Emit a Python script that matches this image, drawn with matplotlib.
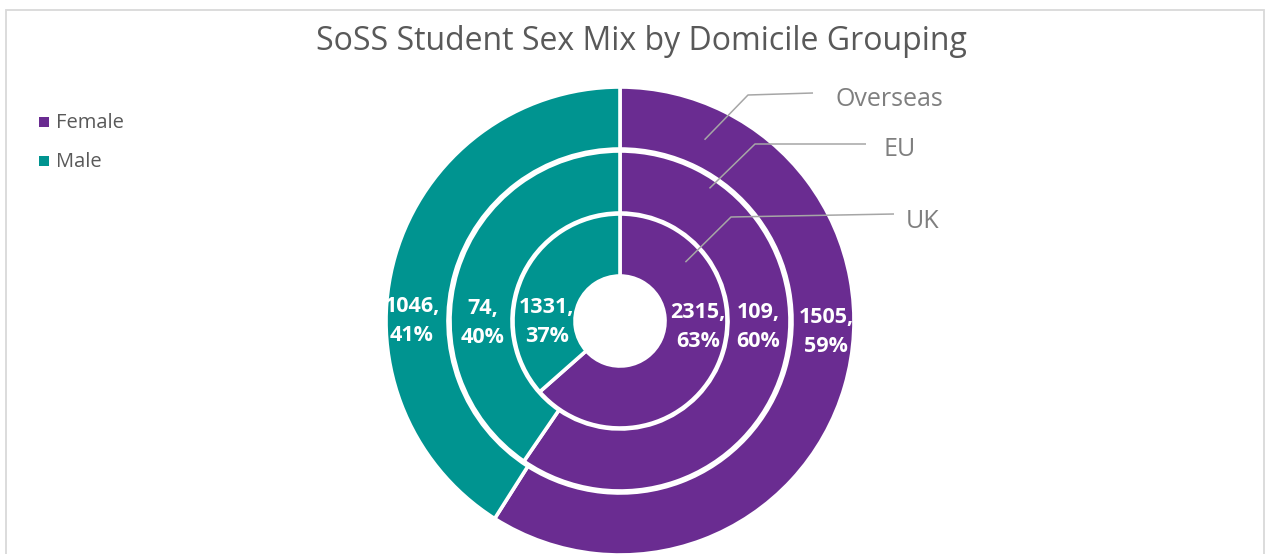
import matplotlib.pyplot as plt
from matplotlib.patches import Rectangle
import numpy as np

plt.rcParams['font.family'] = ['Open Sans', 'DejaVu Sans']

# data (outer ring first)
rings = ['Overseas', 'EU', 'UK']
sexes = ['Female', 'Male']
female = [1505, 109, 2315]
male = [1046, 74, 1331]

purple = '#6A2C91'
teal = '#009490'
grey_txt = '#595959'

W, H = 1266, 554
fig = plt.figure(figsize=(W / 100, H / 100), dpi=100)
ax = fig.add_axes([0, 0, 1, 1])


def Y(y):
    # pixel row (from top) -> data y
    return H - y


cx, cy = 620, Y(321)
radii = [234, 170, 107]
width = 62
label_rf = [206, 138, 78]
label_rm = [208, 137, 73]
label_yf = [332, 327, 327]
label_ym = [321, 323, 322]

for i, name in enumerate(rings):
    vals = [female[i], male[i]]
    ax.pie(vals, radius=radii[i], center=(cx, cy), startangle=90,
           counterclock=False, colors=[purple, teal],
           wedgeprops=dict(width=width, edgecolor='white', linewidth=2.6))
    tot = sum(vals)
    pf = round(female[i] / tot * 100)
    pm = round(male[i] / tot * 100)
    ax.text(cx + label_rf[i], Y(label_yf[i]), f'{female[i]},\n{pf}%',
            color='white', fontsize=15.5, fontweight='bold',
            ha='center', va='center', linespacing=1.45)
    ax.text(cx - label_rm[i], Y(label_ym[i]), f'{male[i]},\n{pm}%',
            color='white', fontsize=15.5, fontweight='bold',
            ha='center', va='center', linespacing=1.45)

ax.set_xlim(0, W)
ax.set_ylim(0, H)
ax.set_aspect('equal')
ax.axis('off')

# ring name callouts with leader lines
anchor_ang = [25, 34, 48]      # degrees clockwise from 12 o'clock
anchor_r = [200, 160, 88]
elbow = [(748, 95), (755, 144), (731, 217)]
line_end = [(813, 93), (866, 144), (894, 214)]
name_pos = [(889, 100), (900, 149), (923, 222)]
for i, name in enumerate(rings):
    a = np.deg2rad(anchor_ang[i])
    x0 = cx + anchor_r[i] * np.sin(a)
    y0 = cy + anchor_r[i] * np.cos(a)
    ex, ey = elbow[i]
    lx, ly = line_end[i]
    ax.plot([x0, ex, lx], [y0, Y(ey), Y(ly)],
            color='#A6A6A6', lw=1.1, solid_capstyle='butt')
    t = ax.text(name_pos[i][0], Y(name_pos[i][1]), name, color='#7F7F7F',
                fontsize=18, ha='center', va='center')
    if name == 'Overseas':
        # the label is cut off along its lower edge in the original
        clip = Rectangle((0, Y(106)), W, 200, transform=ax.transData)
        t.set_clip_path(clip)
        t.set_clip_on(True)

# title
fig.text(641, Y(41), 'SoSS Student Sex Mix by Domicile Grouping',
         transform=None, fontsize=23, color=grey_txt, ha='center', va='center')

# legend
for j, (lab, col) in enumerate(zip(sexes, [purple, teal])):
    yy = Y(122 + 39 * j)
    ax.scatter([43.5], [yy], marker='s', s=55, color=col, linewidths=0)
    ax.text(56, yy - 1, lab, fontsize=14.5, color=grey_txt, va='center', ha='left')

# chart frame (bottom runs off the picture)
fig.patches.append(Rectangle((6, -10), 1258, Y(10) + 10, transform=None,
                             fill=False, edgecolor='#D9D9D9', lw=1.3))

fig.savefig('out.png', dpi=100, facecolor='white')
